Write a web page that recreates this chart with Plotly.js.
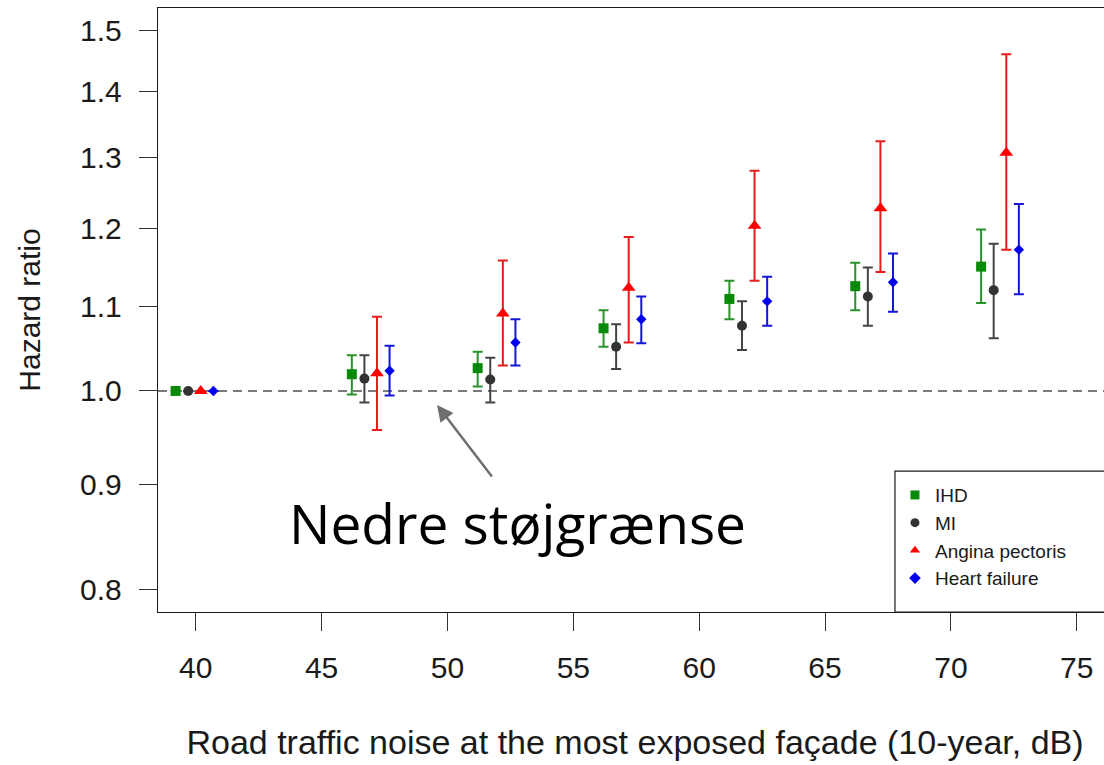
<!DOCTYPE html>
<html><head><meta charset="utf-8">
<script src="https://cdn.plot.ly/plotly-3.0.1.min.js"></script>
<style>html,body{margin:0;padding:0;overflow:hidden;background:#fff;} #chart{width:1140px;height:765px;}</style>
</head><body><div id="chart"></div>
<script>
// Noise categories (dB) – group positions on the x axis
const noiseLevels = [40, 47, 52, 57, 62, 67, 72];

// Ischaemic heart disease
const ihdHR = [1.000, 1.019, 1.026, 1.073, 1.109, 1.125, 1.150];
const ihdLo = [1.000, 0.996, 1.005, 1.051, 1.084, 1.095, 1.104];
const ihdHi = [1.000, 1.041, 1.045, 1.095, 1.132, 1.155, 1.199];

// Myocardial infarction
const miHR = [1.000, 1.014, 1.013, 1.051, 1.076, 1.112, 1.120];
const miLo = [1.000, 0.987, 0.987, 1.025, 1.047, 1.076, 1.061];
const miHi = [1.000, 1.041, 1.038, 1.078, 1.106, 1.149, 1.180];

// Angina pectoris
const apHR = [1.000, 1.020, 1.091, 1.123, 1.204, 1.228, 1.307];
const apLo = [1.000, 0.957, 1.029, 1.056, 1.132, 1.143, 1.172];
const apHi = [1.000, 1.087, 1.158, 1.189, 1.281, 1.324, 1.460];

// Heart failure
const hfHR = [1.000, 1.023, 1.056, 1.084, 1.106, 1.130, 1.172];
const hfLo = [1.000, 0.995, 1.029, 1.055, 1.076, 1.093, 1.115];
const hfHi = [1.000, 1.052, 1.084, 1.112, 1.137, 1.167, 1.234];

const seriesNames = ['IHD', 'MI', 'Angina pectoris', 'Heart failure'];
const yTickVals = [0.8, 0.9, 1.0, 1.1, 1.2, 1.3, 1.4, 1.5];
const yTickText = ['0.8', '0.9', '1.0', '1.1', '1.2', '1.3', '1.4', '1.5'];
const xTitle = 'Road traffic noise at the most exposed façade (10-year, dB)';
const yTitle = 'Hazard ratio';
const noteText = 'Nedre støjgrænse';

const series = [
  {name: seriesNames[0], hr: ihdHR, lo: ihdLo, hi: ihdHi, off: -0.8, symbol: 'square', size: 10, color: '#0a8a0a', ecolor: '#2a922a'},
  {name: seriesNames[1], hr: miHR, lo: miLo, hi: miHi, off: -0.3, symbol: 'circle', size: 10, color: '#333333', ecolor: '#444444'},
  {name: seriesNames[2], hr: apHR, lo: apLo, hi: apHi, off: 0.2, symbol: 'triangle-up', size: 12, color: '#ff0000', ecolor: '#e81c1c'},
  {name: seriesNames[3], hr: hfHR, lo: hfLo, hi: hfHi, off: 0.7, symbol: 'diamond', size: 8, color: '#0000ee', ecolor: '#1515d8'}
];

const traces = [];
series.forEach(s => {
  traces.push({
    type: 'scatter', mode: 'markers', name: s.name, showlegend: false,
    x: noiseLevels.map(v => v + s.off),
    y: s.hr,
    error_y: {
      type: 'data', symmetric: false,
      array: s.hi.map((h, i) => h - s.hr[i]),
      arrayminus: s.lo.map((l, i) => s.hr[i] - l),
      color: s.ecolor, thickness: 2, width: 5
    },
    marker: {symbol: s.symbol, size: s.size, color: s.color, line: {width: 0}}
  });
});
series.forEach(s => {
  traces.push({
    type: 'scatter', mode: 'markers', name: s.name, showlegend: true,
    x: [null], y: [null],
    marker: {symbol: s.symbol, size: 9, color: s.color, line: {width: 0}}
  });
});

const txt = '#1a1a1a';
const layout = {
  width: 1140, height: 765,
  margin: {l: 158, r: 28, t: 8, b: 153},
  paper_bgcolor: '#ffffff', plot_bgcolor: '#ffffff',
  font: {family: 'Liberation Sans, Arial, sans-serif', color: txt},
  showlegend: true,
  xaxis: {
    range: [38.5, 76.4], tickmode: 'linear', tick0: 40, dtick: 5,
    ticks: 'outside', ticklen: 18, tickwidth: 1, tickcolor: '#333',
    showgrid: false, zeroline: false, showline: true, mirror: true,
    linecolor: txt, linewidth: 1.2,
    tickfont: {size: 30, color: txt}, ticklabelstandoff: 11,
    title: {text: xTitle, font: {size: 34, color: txt}, standoff: 47}
  },
  yaxis: {
    type: 'log', range: [Math.log10(0.78), Math.log10(1.538)],
    tickmode: 'array', tickvals: yTickVals, ticktext: yTickText,
    ticks: 'outside', ticklen: 18, tickwidth: 1, tickcolor: '#333',
    showgrid: false, zeroline: false, showline: true, mirror: true,
    linecolor: txt, linewidth: 1.2,
    tickfont: {size: 30, color: txt}, ticklabelstandoff: 11,
    title: {text: yTitle, font: {size: 30, color: txt}, standoff: 30}
  },
  legend: {
    x: 0.7725, xanchor: 'left', y: 0.225, yanchor: 'top',
    bgcolor: 'rgba(0,0,0,0)', borderwidth: 0,
    font: {size: 19, color: txt}
  },
  shapes: [
    {type: 'line', xref: 'paper', x0: 0, x1: 1, yref: 'y', y0: 1, y1: 1,
     line: {color: '#7a7a7a', width: 2, dash: '9px,6px'}, layer: 'below'},
    {type: 'rect', xref: 'paper', yref: 'paper', x0: 0.7725, x1: 1.2, y0: 0, y1: 0.2334,
     line: {color: txt, width: 1.2}, fillcolor: 'rgba(0,0,0,0)'}
  ],
  annotations: [
    {text: noteText, xref: 'paper', yref: 'paper', x: 0.3768, y: 0.149,
     showarrow: false, xanchor: 'center', yanchor: 'middle',
     font: {family: "'Open Sans', 'Noto Sans', sans-serif", size: 55, color: '#000'}},
    {text: '', xref: 'paper', yref: 'paper', x: 0.2925, y: 0.3427,
     showarrow: true, ax: 56, ay: 73, arrowhead: 2, arrowsize: 1.3, arrowwidth: 2.5,
     arrowcolor: '#6e6e6e'}
  ]
};

Plotly.newPlot('chart', traces, layout, {displayModeBar: false, staticPlot: true});
</script>
</body></html>
